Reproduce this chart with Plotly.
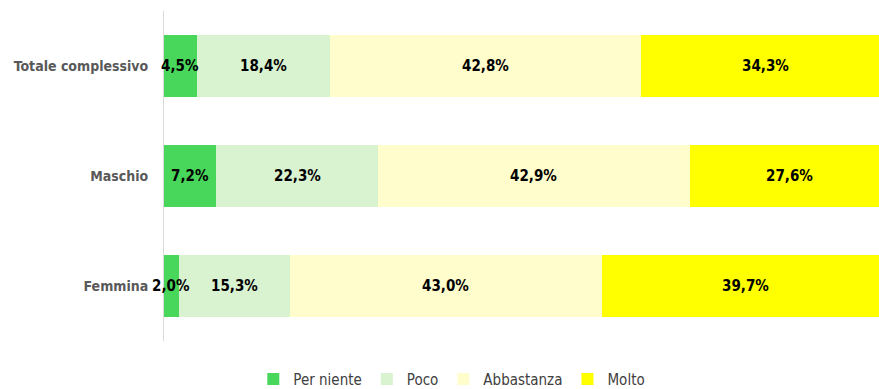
import plotly.graph_objects as go

# Survey response shares (%) by group
categories = ["Totale complessivo", "Maschio", "Femmina"]
series_names = ["Per niente", "Poco", "Abbastanza", "Molto"]
per_niente = [4.5, 7.2, 2.0]
poco = [18.4, 22.3, 15.3]
abbastanza = [42.8, 42.9, 43.0]
molto = [34.3, 27.6, 39.7]

colors = ["#48D75B", "#D9F2D0", "#FFFDCC", "#FFFF00"]
FONT = "DejaVu Sans Condensed, Liberation Sans Narrow, sans-serif"

series = [per_niente, poco, abbastanza, molto]

fig = go.Figure()
for name, vals, col in zip(series_names, series, colors):
    fig.add_trace(go.Bar(
        name=name,
        y=categories,
        x=vals,
        orientation="h",
        marker=dict(color=col, line=dict(width=0)),
        hoverinfo="skip",
    ))

# value labels centred on each segment, drawn above all bars
for i, cat in enumerate(categories):
    start = 0.0
    for vals in series:
        v = vals[i]
        fig.add_annotation(
            x=start + v / 2, y=cat, xref="x", yref="y",
            text=f"{v:.1f}%".replace(".", ","),
            showarrow=False,
            font=dict(family=FONT, size=15, color="#000000", weight="bold"),
        )
        start += v

fig.update_layout(
    barmode="stack",
    bargap=0.43,
    width=879,
    height=389,
    margin=dict(l=164, r=0, t=11, b=48),
    paper_bgcolor="white",
    plot_bgcolor="white",
    font=dict(family=FONT),
    showlegend=True,
    legend=dict(
        orientation="h",
        xref="container", yref="container",
        x=0.514, xanchor="center",
        y=0.025, yanchor="middle",
        font=dict(family=FONT, size=15, color="#404040"),
        itemwidth=30,
        traceorder="normal",
    ),
    xaxis=dict(
        range=[0, 98.5],
        showgrid=False, zeroline=False, showticklabels=False,
        showline=False, ticks="",
    ),
    yaxis=dict(
        autorange="reversed",
        automargin=False,
        showgrid=False, zeroline=False,
        showline=True, linecolor="#D9D9D9", linewidth=1,
        ticks="",
        ticklabelstandoff=12,
        tickfont=dict(family=FONT, size=14, color="#595959", weight="bold"),
    ),
)

fig.write_html("out.html")
